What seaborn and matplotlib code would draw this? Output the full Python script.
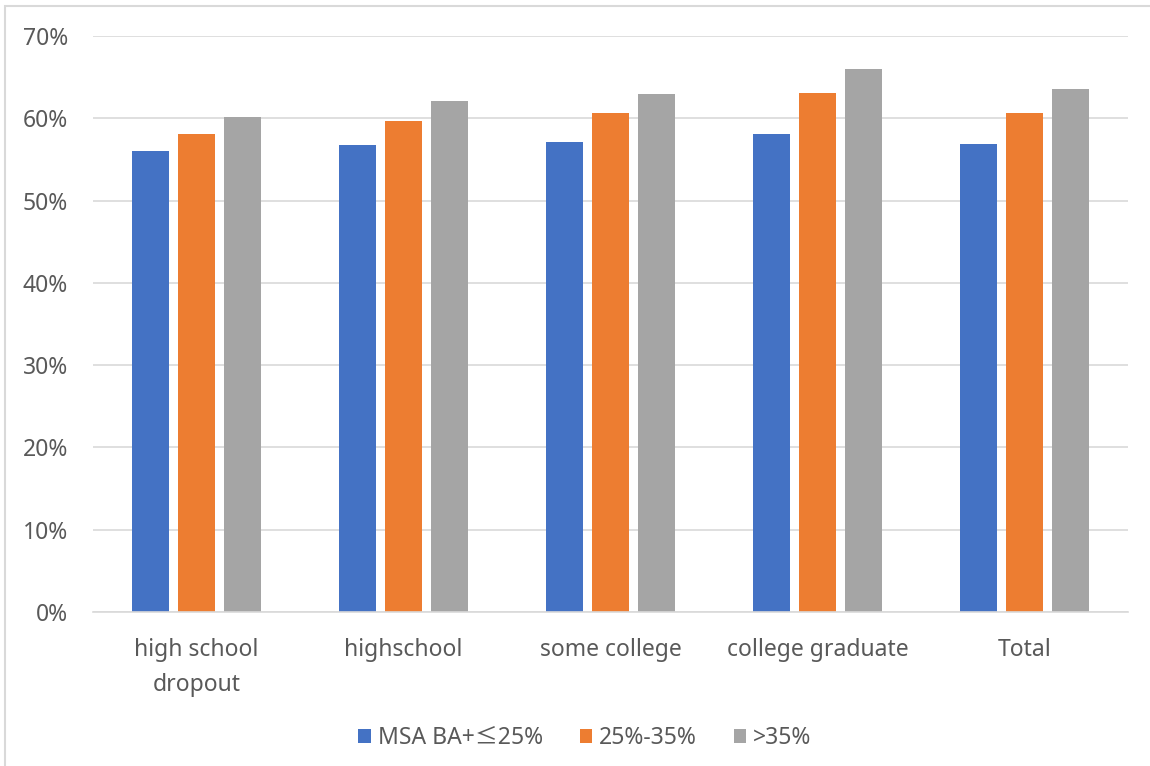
import numpy as np
import pandas as pd
import matplotlib
matplotlib.use("Agg")
import matplotlib.pyplot as plt
from matplotlib.patches import Rectangle
from matplotlib.ticker import PercentFormatter
import seaborn as sns

# data
categories = ["high school\ndropout", "highschool", "some college", "college graduate", "Total"]
series_names = ["MSA BA+\u226425%", "25%-35%", ">35%"]
low_share = [0.560, 0.567, 0.571, 0.581, 0.569]
mid_share = [0.581, 0.597, 0.606, 0.631, 0.607]
high_share = [0.601, 0.621, 0.629, 0.660, 0.636]
colors = ["#4472C4", "#ED7D31", "#A5A5A5"]

df = pd.DataFrame({
    "category": categories * 3,
    "series": np.repeat(series_names, len(categories)),
    "value": low_share + mid_share + high_share,
})

sns.set_theme(style="white")
plt.rcParams["font.family"] = ["Noto Sans", "Noto Sans CJK KR", "DejaVu Sans"]

fig = plt.figure(figsize=(11.5, 7.66), dpi=100)
ax = fig.add_axes([93 / 1150, 1 - 612 / 766, 1035 / 1150, 576 / 766])

sns.barplot(data=df, x="category", y="value", hue="series", order=categories,
            hue_order=series_names, palette=colors, width=0.667, gap=0.19,
            linewidth=0, saturation=1, ax=ax)

ax.set_ylim(0, 0.70)
ax.set_yticks(np.arange(0, 0.71, 0.1))
ax.yaxis.set_major_formatter(PercentFormatter(1.0, decimals=0))
ax.set_xlim(-0.5, len(categories) - 0.5)
ax.yaxis.grid(True, color="#D9D9D9", linewidth=1.2)
ax.set_axisbelow(True)
for side in ["top", "right", "left"]:
    ax.spines[side].set_visible(False)
ax.spines["bottom"].set_color("#D9D9D9")
ax.spines["bottom"].set_linewidth(1.2)
ax.set_xlabel("")
ax.set_ylabel("")
ax.tick_params(axis="y", length=0, pad=18, labelsize=16.5, labelcolor="#595959")
ax.tick_params(axis="x", length=0, pad=19, labelsize=16.5, labelcolor="#595959")
for lbl in ax.get_xticklabels():
    lbl.set_linespacing(1.6)

handles, labels = ax.get_legend_handles_labels()
ax.legend_.remove()
fig.legend(handles, labels, loc="center", bbox_to_anchor=(585 / 1150, 1 - 738 / 766),
           ncol=3, frameon=False, fontsize=16.5, handlelength=0.55, handleheight=0.55,
           handletextpad=0.3, columnspacing=1.6, labelcolor="#595959")

# light chart-area border
fig.patches.append(Rectangle((5 / 1150, -0.05), 1.1, 1 - 6 / 766 + 0.05,
                             transform=fig.transFigure, fill=False,
                             edgecolor="#D9D9D9", linewidth=1.5))

fig.savefig("out.png", dpi=100)
